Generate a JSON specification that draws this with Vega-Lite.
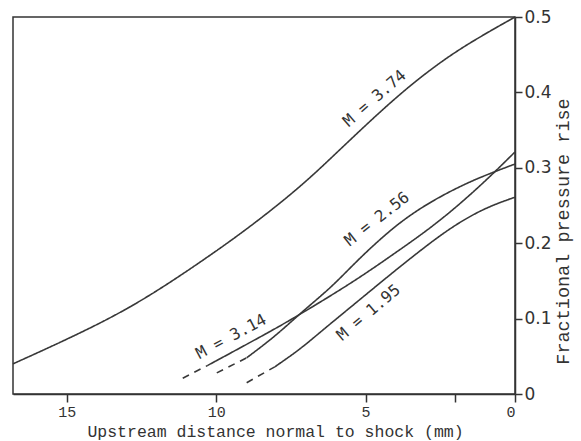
{
  "$schema": "https://vega.github.io/schema/vega-lite/v6.json",
  "width": 502,
  "height": 377,
  "autosize": {"type": "none"},
  "padding": {"left": 13, "top": 17, "right": 66, "bottom": 47},
  "background": "white",
  "config": {
    "view": {"stroke": "#333333", "strokeWidth": 1.5},
    "axis": {"domainColor": "#333333", "domainWidth": 1.5, "tickColor": "#333333", "tickWidth": 1.5, "grid": false, "labelColor": "#333333", "titleColor": "#333333", "titleFontWeight": "normal"}
  },
  "datasets": {
    "curves": [
      {"curve": "3.74", "segment": "measured", "x": 16.8, "y": 0.040},
      {"curve": "3.74", "segment": "measured", "x": 15.01, "y": 0.072},
      {"curve": "3.74", "segment": "measured", "x": 12.8, "y": 0.115},
      {"curve": "3.74", "segment": "measured", "x": 10.55, "y": 0.174},
      {"curve": "3.74", "segment": "measured", "x": 8.88, "y": 0.221},
      {"curve": "3.74", "segment": "measured", "x": 7.2, "y": 0.274},
      {"curve": "3.74", "segment": "measured", "x": 6.1, "y": 0.315},
      {"curve": "3.74", "segment": "measured", "x": 4.96, "y": 0.358},
      {"curve": "3.74", "segment": "measured", "x": 3.85, "y": 0.398},
      {"curve": "3.74", "segment": "measured", "x": 2.75, "y": 0.433},
      {"curve": "3.74", "segment": "measured", "x": 1.61, "y": 0.464},
      {"curve": "3.74", "segment": "measured", "x": 0, "y": 0.5},

      {"curve": "3.14", "segment": "extrapolated", "x": 11.12, "y": 0.021},
      {"curve": "3.14", "segment": "extrapolated", "x": 10.28, "y": 0.038},
      {"curve": "3.14", "segment": "measured", "x": 10.28, "y": 0.038},
      {"curve": "3.14", "segment": "measured", "x": 8.88, "y": 0.068},
      {"curve": "3.14", "segment": "measured", "x": 7.87, "y": 0.090},
      {"curve": "3.14", "segment": "measured", "x": 7.1, "y": 0.108},
      {"curve": "3.14", "segment": "measured", "x": 6.43, "y": 0.124},
      {"curve": "3.14", "segment": "measured", "x": 5.29, "y": 0.152},
      {"curve": "3.14", "segment": "measured", "x": 4.19, "y": 0.182},
      {"curve": "3.14", "segment": "measured", "x": 2.75, "y": 0.222},
      {"curve": "3.14", "segment": "measured", "x": 1.61, "y": 0.260},
      {"curve": "3.14", "segment": "measured", "x": 0.74, "y": 0.292},
      {"curve": "3.14", "segment": "measured", "x": 0, "y": 0.321},

      {"curve": "2.56", "segment": "extrapolated", "x": 9.98, "y": 0.028},
      {"curve": "2.56", "segment": "extrapolated", "x": 8.98, "y": 0.048},
      {"curve": "2.56", "segment": "measured", "x": 8.98, "y": 0.048},
      {"curve": "2.56", "segment": "measured", "x": 8.04, "y": 0.076},
      {"curve": "2.56", "segment": "measured", "x": 7.1, "y": 0.110},
      {"curve": "2.56", "segment": "measured", "x": 6.1, "y": 0.143},
      {"curve": "2.56", "segment": "measured", "x": 5.29, "y": 0.177},
      {"curve": "2.56", "segment": "measured", "x": 3.95, "y": 0.226},
      {"curve": "2.56", "segment": "measured", "x": 2.75, "y": 0.257},
      {"curve": "2.56", "segment": "measured", "x": 1.61, "y": 0.280},
      {"curve": "2.56", "segment": "measured", "x": 0.74, "y": 0.294},
      {"curve": "2.56", "segment": "measured", "x": 0, "y": 0.305},

      {"curve": "1.95", "segment": "extrapolated", "x": 8.98, "y": 0.015},
      {"curve": "1.95", "segment": "extrapolated", "x": 8.04, "y": 0.036},
      {"curve": "1.95", "segment": "measured", "x": 8.04, "y": 0.036},
      {"curve": "1.95", "segment": "measured", "x": 7.2, "y": 0.059},
      {"curve": "1.95", "segment": "measured", "x": 6.43, "y": 0.085},
      {"curve": "1.95", "segment": "measured", "x": 5.29, "y": 0.122},
      {"curve": "1.95", "segment": "measured", "x": 4.19, "y": 0.158},
      {"curve": "1.95", "segment": "measured", "x": 3.18, "y": 0.190},
      {"curve": "1.95", "segment": "measured", "x": 2.18, "y": 0.220},
      {"curve": "1.95", "segment": "measured", "x": 1.07, "y": 0.246},
      {"curve": "1.95", "segment": "measured", "x": 0, "y": 0.261}
    ],
    "labels": [
      {"label": "M = 3.74", "x": 4.7, "y": 0.392},
      {"label": "M = 2.56", "x": 4.62, "y": 0.232},
      {"label": "M = 3.14", "x": 9.5, "y": 0.076},
      {"label": "M = 1.95", "x": 4.9, "y": 0.108}
    ]
  },
  "layer": [
    {
      "data": {"name": "curves"},
      "mark": {"type": "line", "color": "#383838", "strokeWidth": 1.6, "interpolate": "basis"},
      "encoding": {
        "x": {
          "field": "x", "type": "quantitative",
          "scale": {"domain": [0, 16.8], "reverse": true, "nice": false, "zero": false},
          "axis": {
            "title": "Upstream distance normal to shock (mm)",
            "values": [0, 2, 5, 10, 15],
            "labelExpr": "datum.value == 2 ? '' : datum.label",
            "tickSize": 8,
            "labelPadding": 2,
            "labelFont": "Liberation Mono",
            "labelFontSize": 15,
            "titleFont": "Liberation Mono",
            "titleFontSize": 16.5,
            "titleX": 262,
            "titleY": 42,
            "titleBaseline": "alphabetic"
          }
        },
        "y": {
          "field": "y", "type": "quantitative",
          "scale": {"domain": [0, 0.5], "nice": false},
          "axis": {
            "orient": "right",
            "title": "Fractional pressure rise",
            "values": [0, 0.1, 0.2, 0.3, 0.4, 0.5],
            "labelExpr": "datum.value == 0 ? '0' : format(datum.value, '.1f')",
            "tickSize": 7,
            "labelPadding": 2,
            "labelFont": "DejaVu Sans",
            "labelFontSize": 17,
            "titleFont": "Liberation Mono",
            "titleFontSize": 18.5,
            "titleAngle": 270,
            "titleX": 53,
            "titleY": 214,
            "titleAlign": "center",
            "titleBaseline": "alphabetic"
          }
        },
        "detail": {"field": "curve"},
        "strokeDash": {
          "field": "segment", "type": "nominal",
          "scale": {"domain": ["measured", "extrapolated"], "range": [[1, 0], [7, 6]]},
          "legend": null
        }
      }
    },
    {
      "data": {"name": "labels"},
      "transform": [{"filter": "datum.label == 'M = 3.74'"}],
      "mark": {"type": "text", "angle": -41, "font": "DejaVu Sans Mono", "fontSize": 16, "color": "#333333", "align": "center", "baseline": "middle"},
      "encoding": {"x": {"field": "x", "type": "quantitative"}, "y": {"field": "y", "type": "quantitative"}, "text": {"field": "label"}}
    },
    {
      "data": {"name": "labels"},
      "transform": [{"filter": "datum.label == 'M = 2.56'"}],
      "mark": {"type": "text", "angle": -38, "font": "DejaVu Sans Mono", "fontSize": 16, "color": "#333333", "align": "center", "baseline": "middle"},
      "encoding": {"x": {"field": "x", "type": "quantitative"}, "y": {"field": "y", "type": "quantitative"}, "text": {"field": "label"}}
    },
    {
      "data": {"name": "labels"},
      "transform": [{"filter": "datum.label == 'M = 3.14'"}],
      "mark": {"type": "text", "angle": -28, "font": "DejaVu Sans Mono", "fontSize": 16, "color": "#333333", "align": "center", "baseline": "middle"},
      "encoding": {"x": {"field": "x", "type": "quantitative"}, "y": {"field": "y", "type": "quantitative"}, "text": {"field": "label"}}
    },
    {
      "data": {"name": "labels"},
      "transform": [{"filter": "datum.label == 'M = 1.95'"}],
      "mark": {"type": "text", "angle": -40, "font": "DejaVu Sans Mono", "fontSize": 16, "color": "#333333", "align": "center", "baseline": "middle"},
      "encoding": {"x": {"field": "x", "type": "quantitative"}, "y": {"field": "y", "type": "quantitative"}, "text": {"field": "label"}}
    }
  ]
}
